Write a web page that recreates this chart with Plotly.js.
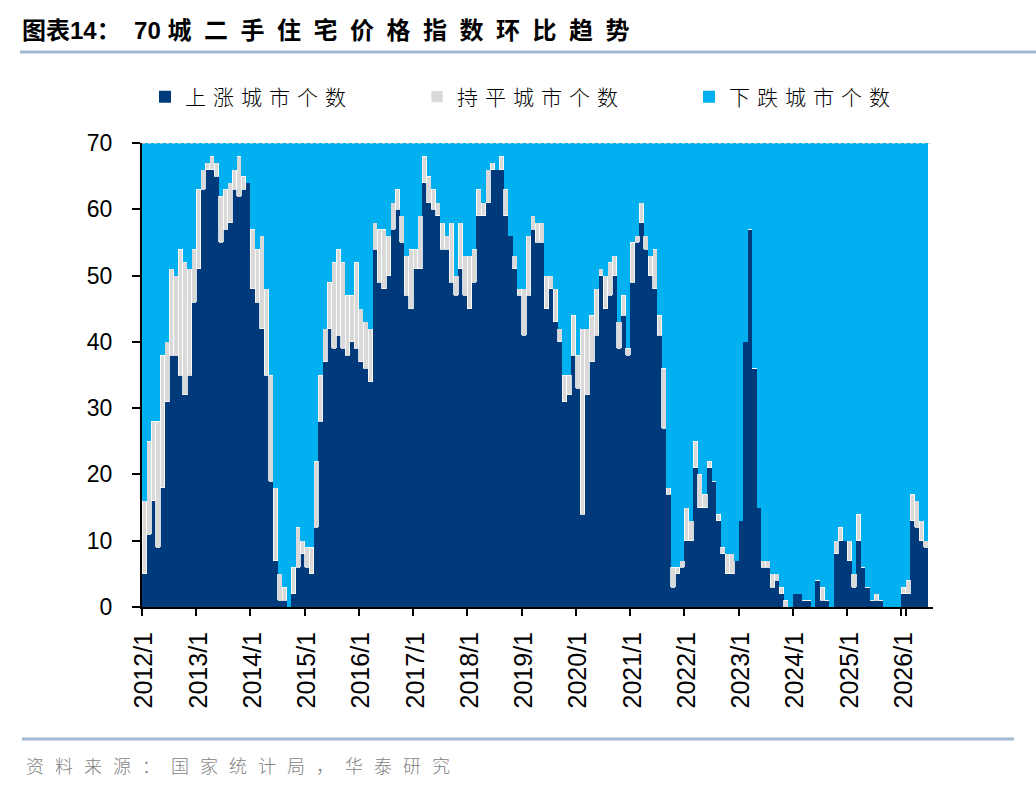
<!DOCTYPE html>
<html>
<head>
<meta charset="utf-8">
<script src="https://cdn.plot.ly/plotly-3.0.1.min.js"></script>
<style>
html, body { margin: 0; padding: 0; background: #fff; }
#chart { width: 1036px; height: 792px; }
.annotation-text { letter-spacing: 11px; }
</style>
</head>
<body>
<div id="chart"></div>
<script>
// 70城二手住宅价格指数环比：上涨 / 持平 / 下跌 城市个数（2012/1 - 2026/6）
var years = [2012, 2013, 2014, 2015, 2016, 2017, 2018, 2019, 2020, 2021, 2022, 2023, 2024, 2025, 2026];
var seriesNames = ['上涨城市个数', '持平城市个数', '下跌城市个数'];

var upCount = [
  5, 11, 16, 9, 18, 31, 38, 38, 35, 32, 35, 46,
  51, 63, 66, 66, 65, 55, 57, 58, 63, 62, 63, 64,
  48, 46, 42, 35, 19, 7, 1, 1, 0, 2, 6, 8,
  6, 5, 12, 28, 37, 42, 39, 41, 39, 38, 40, 39,
  37, 36, 34, 54, 49, 48, 50, 57, 60, 55, 47, 45,
  51, 51, 64, 61, 60, 59, 54, 54, 49, 47, 51, 47,
  45, 49, 59, 59, 61, 66, 66, 66, 59, 56, 51, 47,
  41, 47, 57, 55, 55, 45, 48, 43, 40, 31, 32, 38,
  33, 14, 32, 37, 41, 50, 45, 47, 50, 39, 44, 38,
  49, 55, 58, 54, 50, 48, 41, 27, 17, 3, 5, 6,
  10, 10, 21, 15, 15, 21, 19, 13, 8, 5, 5, 7,
  13, 40, 57, 36, 15, 6, 6, 3, 4, 2, 0, 0,
  2, 2, 1, 1, 0, 4, 1, 1, 0, 8, 10, 10,
  7, 3, 10, 6, 3, 1, 1, 1, 0, 0, 0, 0,
  2, 2, 13, 12, 10, 9
];

var flatCount = [
  11, 14, 12, 19, 20, 9, 13, 12, 19, 20, 16, 8,
  12, 3, 1, 2, 2, 7, 6, 6, 3, 6, 2, 0,
  9, 8, 14, 13, 16, 11, 4, 2, 0, 4, 6, 2,
  3, 4, 10, 7, 5, 7, 13, 13, 13, 9, 7, 13,
  8, 7, 8, 4, 8, 9, 6, 4, 3, 4, 6, 9,
  3, 8, 4, 4, 3, 2, 4, 2, 9, 3, 7, 6,
  8, 5, 4, 2, 5, 1, 0, 2, 4, 0, 2, 1,
  7, 9, 2, 3, 3, 5, 2, 5, 2, 4, 3, 6,
  5, 28, 10, 7, 7, 1, 5, 5, 3, 4, 3, 1,
  6, 1, 3, 2, 3, 6, 3, 9, 1, 3, 1, 1,
  5, 3, 4, 5, 2, 1, 0, 1, 1, 3, 3, 0,
  0, 0, 0, 0, 0, 1, 1, 2, 1, 1, 1, 0,
  0, 0, 0, 0, 0, 0, 2, 0, 0, 2, 2, 0,
  3, 2, 4, 0, 0, 0, 1, 0, 0, 0, 0, 0,
  1, 2, 4, 4, 3, 1
];

var downCount = [
  54, 45, 42, 42, 32, 30, 19, 20, 16, 18, 19, 16,
  7, 4, 3, 2, 3, 8, 7, 6, 4, 2, 5, 6,
  13, 16, 14, 22, 35, 52, 65, 67, 70, 64, 58, 60,
  61, 61, 48, 35, 28, 21, 18, 16, 18, 23, 23, 18,
  25, 27, 28, 12, 13, 13, 14, 9, 7, 11, 17, 16,
  16, 11, 2, 5, 7, 9, 12, 14, 12, 20, 12, 17,
  17, 16, 7, 9, 4, 3, 4, 2, 7, 14, 17, 22,
  22, 14, 11, 12, 12, 20, 20, 22, 28, 35, 35, 26,
  32, 28, 28, 26, 22, 19, 20, 18, 17, 27, 23, 31,
  15, 14, 9, 14, 17, 16, 26, 34, 52, 64, 64, 63,
  55, 57, 45, 50, 53, 48, 51, 56, 61, 62, 62, 63,
  57, 30, 13, 34, 55, 63, 63, 65, 65, 67, 69, 70,
  68, 68, 69, 69, 70, 66, 67, 69, 70, 60, 58, 60,
  60, 65, 56, 64, 67, 69, 68, 69, 70, 70, 70, 70,
  67, 66, 53, 54, 57, 60
];

// month labels, one per bar
var months = [];
years.forEach(function (y) {
  for (var m = 1; m <= 12; m++) {
    if (months.length < upCount.length) months.push(y + '/' + m);
  }
});
var tickLabels = years.map(function (y) { return y + '/1'; });

var cjk = '"Noto Sans CJK SC", sans-serif';
var latin = '"Liberation Sans", Arial, "Noto Sans CJK SC", sans-serif';

function spaced(s) { return '<span style="letter-spacing:7px">' + s + '</span>'; }

var traces = [
  { name: spaced(seriesNames[0]), x: months, y: upCount, type: 'bar', legend: 'legend',
    marker: { color: '#003A7A', line: { width: 0 } } },
  { name: spaced(seriesNames[1]), x: months, y: flatCount, type: 'bar', legend: 'legend2',
    marker: { color: '#D9D9D9', line: { color: '#FFFFFF', width: 0.8 } } },
  { name: spaced(seriesNames[2]), x: months, y: downCount, type: 'bar', legend: 'legend3',
    marker: { color: '#00B0F0', line: { width: 0 } } }
];

// plot box: x 142..933, y 143..607
var L = 142, R = 933, T = 143, B = 607;
function px(x) { return (x - L) / (R - L); }
function py(y) { return (B - y) / (B - T); }

function legendAt(left) {
  return {
    orientation: 'h',
    x: left / 1036, xref: 'container', xanchor: 'left',
    y: 1 - 97 / 792, yref: 'container', yanchor: 'middle',
    font: { family: cjk, size: 21, color: '#000', weight: 300 },
    bgcolor: 'rgba(0,0,0,0)'
  };
}

var layout = {
  width: 1036, height: 792,
  margin: { l: L, r: 1036 - R, t: T, b: 792 - B, pad: 0 },
  paper_bgcolor: '#fff', plot_bgcolor: '#fff',
  barmode: 'stack', bargap: 0,
  showlegend: true,
  title: {
    text: '图表14：  70 <span style="letter-spacing:12.5px">城二手住宅价格指数环比趋势</span>',
    x: 22 / 1036, xanchor: 'left', xref: 'container',
    y: 1 - 31 / 792, yanchor: 'middle', yref: 'container',
    font: { family: latin, size: 24, color: '#000', weight: 'bold' }
  },
  legend: legendAt(145),
  legend2: legendAt(417),
  legend3: legendAt(689),
  xaxis: {
    type: 'category', categoryorder: 'array', categoryarray: months,
    range: [-0.5, upCount.length + 0.5],
    tickmode: 'array', tickvals: tickLabels, ticktext: tickLabels,
    tickson: 'boundaries', tickangle: -90,
    ticks: 'outside', ticklen: 7, tickwidth: 2, tickcolor: '#000',
    ticklabelstandoff: 13,
    showline: true, linecolor: '#000', linewidth: 2,
    showgrid: false, zeroline: false, fixedrange: true,
    tickfont: { family: latin, size: 25, color: '#000' }
  },
  yaxis: {
    range: [0, 70], dtick: 10, tick0: 0,
    ticks: 'outside', ticklen: 8, tickwidth: 2, tickcolor: '#000',
    ticklabelstandoff: 15,
    showline: true, linecolor: '#000', linewidth: 2,
    showgrid: false, zeroline: false, fixedrange: true,
    tickfont: { family: latin, size: 23, color: '#000' }
  },
  shapes: [
    { type: 'line', xref: 'paper', yref: 'y', x0: 0, x1: 1, y0: 70, y1: 70,
      line: { color: '#D0D0D0', width: 1.5, dash: 'dot' }, layer: 'above' },
    { type: 'line', xref: 'paper', yref: 'paper', x0: px(20), x1: px(1036), y0: py(52), y1: py(52),
      line: { color: '#A3B8D2', width: 3 } },
    { type: 'line', xref: 'paper', yref: 'paper', x0: px(22), x1: px(1014), y0: py(739), y1: py(739),
      line: { color: '#A3B8D2', width: 3 } }
  ],
  annotations: [
    { text: '资料来源：国家统计局，华泰研究', xref: 'paper', yref: 'paper',
      x: px(24), y: py(765), xanchor: 'left', yanchor: 'middle', showarrow: false,
      font: { family: cjk, size: 18, color: '#7F7F7F', weight: 300 } }
  ]
};

Plotly.newPlot('chart', traces, layout, { displayModeBar: false, staticPlot: true });
</script>
</body>
</html>
